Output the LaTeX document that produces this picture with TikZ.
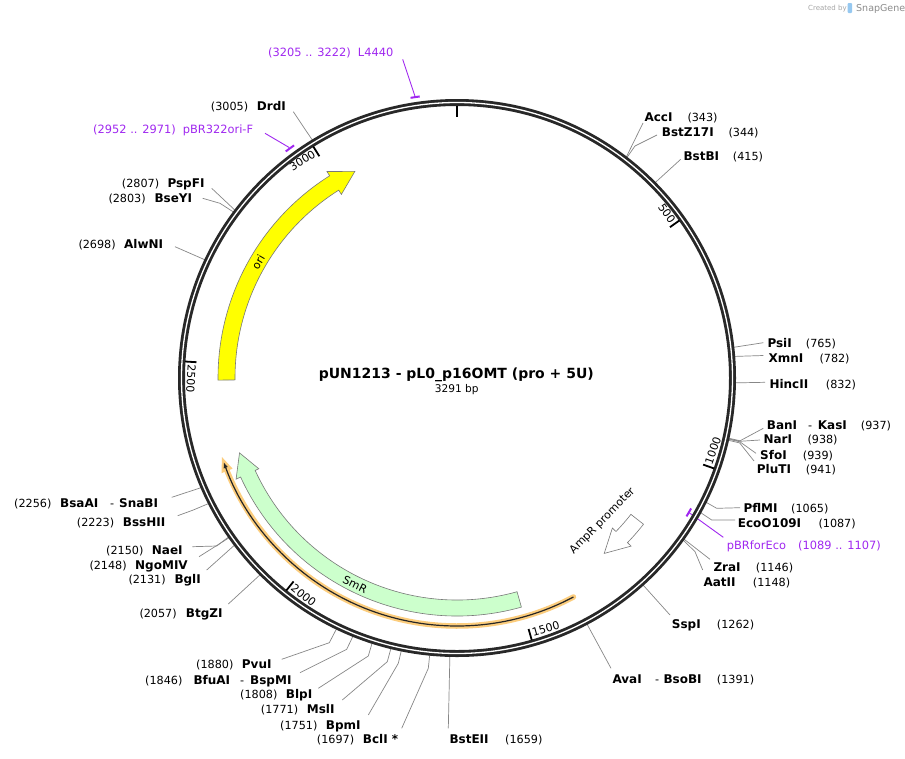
\documentclass[tikz,border=0pt]{standalone}
\usepackage{fontspec}
\setmainfont{DejaVu Sans}
\usetikzlibrary{arrows.meta}
\definecolor{ringc}{RGB}{40,40,40}
\definecolor{leadc}{RGB}{135,135,135}
\definecolor{featc}{RGB}{120,120,120}
\definecolor{smrc}{RGB}{204,255,204}
\definecolor{oric}{RGB}{255,255,0}
\definecolor{prim}{RGB}{160,40,240}
\definecolor{glowc}{RGB}{252,205,125}
\definecolor{logoc}{RGB}{150,200,240}
\newcommand{\pang}[1]{(#1)/3291*360-90}
\newcommand{\siteR}[6]{\node[enz] (n#1) at (#3,#4) {#2}; \node[epos] (p#1) at (#5,#4) {(#6)};}
\begin{document}
\begin{tikzpicture}[x=1pt,y=-1pt,
 enz/.style={font=\fontsize{12}{14}\selectfont\bfseries, inner sep=0pt, anchor=base west},
 epos/.style={font=\fontsize{11.2}{13}\selectfont, inner sep=0pt, anchor=base west},
 dashn/.style={font=\fontsize{11.2}{13}\selectfont, inner sep=0pt, anchor=base west},
 plab/.style={font=\fontsize{11.4}{13}\selectfont, text=prim, inner sep=0pt, anchor=base west},
 lead/.style={draw=leadc, line width=0.7pt},
 plead/.style={draw=prim, line width=0.9pt},
 pmark/.style={draw=prim, line width=2pt},
 feat/.style={draw=featc, line width=0.6pt},
 tickl/.style={font=\fontsize{11}{13}\selectfont, inner sep=0pt},
]
\useasboundingbox (0,0) rectangle (905,758);
\fill[white] (0,0) rectangle (905,758);

% ---------- ring coordinates ----------
\begin{scope}[shift={(457,378)}]
 \foreach \id/\p in {AccI/343,BstZ/344,BstBI/415,PsiI/765,XmnI/782,HincII/832,BanI/937,NarI/938,SfoI/939,PluTI/941,PflMI/1065,EcoO/1087,ZraI/1146,AatII/1148,SspI/1262,AvaI/1391,BstEII/1659,BclI/1697,BpmI/1751,MslI/1771,BlpI/1808,BfuAI/1846,PvuI/1880,BtgZI/2057,BglI/2131,NgoMIV/2148,NaeI/2150,BssHII/2223,BsaAI/2256,AlwNI/2698,BseYI/2803,PspFI/2807,DrdI/3005}
  {\coordinate (r\id) at ({\pang{\p}}:277);}
 \foreach \id/\p in {BanI/937,NarI/938,SfoI/939,PluTI/941}
  {\coordinate (k\id) at ({\pang{\p}}:290);}
 \coordinate (mL4440) at ({\pang{3213.5}}:285);
 \coordinate (mpBRori) at ({\pang{2961.5}}:285);
 \coordinate (mpBRfor) at ({\pang{1098}}:268);
\end{scope}

% ---------- leader end points ----------
\foreach \id/\xx/\yy in {AccI/643/123, BstZ/657/135, BstBI/680.7/159.3, PsiI/763.3/342.7, XmnI/763.3/355.5, HincII/765/382.3, BanI/763.3/428.3, NarI/760/440, SfoI/756/453.3, PluTI/754/461, PflMI/740/507.7, EcoO/735/520, ZraI/710/559.3, AatII/702.7/570, SspI/670/615, AvaI/611/668.3, BstEII/448.3/728.3, BclI/401.7/728.3, BpmI/368.3/715, MslI/342.3/700, BlpI/318.3/688.3, BfuAI/300/672.7, PvuI/281.7/659.3, BtgZI/228.3/604, BglI/206.7/570, NgoMIV/199/556.7, NaeI/192.3/546.7, BssHII/177.7/515.7, BsaAI/171.7/497.3, AlwNI/175/246.7, BseYI/202.7/198.3, PspFI/211.7/188.3, DrdI/293.3/111.7}
 {\coordinate (e\id) at (\xx,\yy);}
\foreach \id/\xx/\yy in {BstZ/635/146, PflMI/716.7/508.3, EcoO/711.7/520, AatII/695/551.7, BclI/428.3/668.3, BpmI/398.3/663.3, MslI/387.3/661.7, BlpI/368.3/656, BfuAI/346.7/649.3, PvuI/329.3/642.7, NaeI/216.7/546, BssHII/193.3/510, BseYI/220/203.3}
 {\coordinate (k\id) at (\xx,\yy);}
\coordinate (eL4440) at (402.7,59.3);
\coordinate (epBRori) at (265,133.3);
\coordinate (epBRfor) at (723.3,537.3);

% ---------- leaders ----------
\foreach \id in {AccI,BstBI,PsiI,XmnI,HincII,ZraI,SspI,AvaI,BstEII,BtgZI,BglI,NgoMIV,BsaAI,AlwNI,PspFI,DrdI}
 {\draw[lead] (r\id) -- (e\id);}
\foreach \id in {BstZ,BanI,NarI,SfoI,PluTI,PflMI,EcoO,AatII,BclI,BpmI,MslI,BlpI,BfuAI,PvuI,NaeI,BssHII,BseYI}
 {\draw[lead] (r\id) -- (k\id) -- (e\id);}
\draw[plead] (mL4440) -- (eL4440);
\draw[plead] (mpBRori) -- (epBRori);
\draw[plead] (mpBRfor) -- (epBRfor);

% ---------- backbone ----------
\begin{scope}[shift={(457,378)}]
 \draw[ringc, line width=7pt] (0,0) circle (275.5);
 \draw[white, line width=1.3pt] (0,0) circle (275.5);
 \foreach \t in {0,500,1000,1500,2000,2500,3000}
  {\draw[black, line width=1.8pt] ({\pang{\t}}:272.5) -- ({\pang{\t}}:261);}
 \foreach \t in {500,3000}
  {\node[tickl, anchor=base east, rotate={-(\t/3291*360)}] (t\t) at ({\pang{\t}-0.5}:262.5) {\t};}
 \foreach \t in {1000,1500,2000,2500}
  {\node[tickl, anchor=base west, rotate={180-\t/3291*360}] (t\t) at ({\pang{\t}-0.5}:269.5) {\t};}

 % primer marks
 \draw[pmark] ({\pang{3205}}:284) arc[start angle={\pang{3205}}, end angle={\pang{3222}}, radius=284];
 \draw[pmark] ({\pang{2952}}:284) arc[start angle={\pang{2952}}, end angle={\pang{2971}}, radius=284];
 \draw[pmark] ({\pang{1089}}:268) arc[start angle={\pang{1089}}, end angle={\pang{1107}}, radius=268];

 % ori
 \draw[feat, fill=oric] (179.5:239) arc[start angle=179.5, end angle=237.8, radius=239]
   -- (237.8:244) -- (243.7:230.5) -- (237.8:217) -- (237.8:222)
   arc[start angle=237.8, end angle=179.5, radius=222] -- cycle;
 % SmR
 \draw[feat, fill=smrc] (74.3:238) arc[start angle=74.3, end angle=155.4, radius=238]
   -- (155.4:243) -- (161:230) -- (155.4:218) -- (155.4:222)
   arc[start angle=155.4, end angle=74.3, radius=222] -- cycle;
 % AmpR promoter
 \draw[feat, fill=white] (38.1:237) arc[start angle=38.1, end angle=44, radius=237]
   -- (44:242) -- (50:229) -- (44:216) -- (44:221)
   arc[start angle=44, end angle=38.1, radius=221] -- cycle;
 % thin orange feature
 \draw[glowc, line width=5.5pt, line cap=round] (62:248) arc[start angle=62, end angle=158.5, radius=248];
 \fill[glowc] (161.4:248) -- (158:254) -- (158:242) -- cycle;
 \draw[black!85, line width=1.2pt, -{Latex[length=6pt,width=4.5pt]}] (62:248) arc[start angle=62, end angle=160.2, radius=248];

 % feature labels
 \node[tickl, rotate=59.8] (lori) at (210.2:230) {ori};
 \node[tickl, rotate=-26.3] (lsmr) at (116.3:230) {SmR};
 \node[tickl, rotate=45.5] (lamp) at (44.5:204) {AmpR promoter};
\end{scope}

% ---------- enzyme labels ----------
\siteR{AccI}{AccI}{644.3}{121}{687.3}{343}
\siteR{BstZ}{BstZ17I}{661.7}{136.3}{728.3}{344}
\siteR{BstBI}{BstBI}{683.3}{160}{732.7}{415}
\siteR{PsiI}{PsiI}{767.3}{347.6}{805.7}{765}
\siteR{XmnI}{XmnI}{768.3}{362}{819.3}{782}
\siteR{HincII}{HincII}{769.3}{388.6}{825.7}{832}
\node[enz] (nBanI) at (766.7,429.3) {BanI};
\node[dashn] (dBanI) at (808,429.3) {-};
\node[enz] (nKasI) at (817.7,429.3) {KasI};
\node[epos] (pBanI) at (860.7,429.3) {(937)};
\siteR{NarI}{NarI}{763.3}{443.6}{807.3}{938}
\siteR{SfoI}{SfoI}{760}{459.3}{802.7}{939}
\siteR{PluTI}{PluTI}{756.7}{473.6}{805.7}{941}
\siteR{PflMI}{PflMI}{743.3}{512.6}{791}{1065}
\siteR{EcoO}{EcoO109I}{737.7}{527}{818.3}{1087}
\siteR{ZraI}{ZraI}{713.3}{571.6}{755.7}{1146}
\siteR{AatII}{AatII}{703.3}{586}{752.7}{1148}
\siteR{SspI}{SspI}{671.7}{628.6}{716.7}{1262}
\node[enz] (nAvaI) at (612.3,683.6) {AvaI};
\node[dashn] (dAvaI) at (655,683.6) {-};
\node[enz] (nBsoBI) at (663.3,683.6) {BsoBI};
\node[epos] (pAvaI) at (716.7,683.6) {(1391)};
\siteR{BstEII}{BstEII}{449.3}{743.6}{505}{1659}
\siteR{BclI}{BclI *}{362.7}{743.6}{316.7}{1697}
\siteR{BpmI}{BpmI}{325.7}{729.3}{280}{1751}
\siteR{MslI}{MslI}{306.7}{713.6}{260.7}{1771}
\siteR{BlpI}{BlpI}{285.7}{698.6}{240}{1808}
\node[epos] (pBfuAI) at (145,684.3) {(1846)};
\node[enz] (nBfuAI) at (193.3,684.3) {BfuAI};
\node[dashn] (dBfuAI) at (240,684.3) {-};
\node[enz] (nBspMI) at (250,684.3) {BspMI};
\siteR{PvuI}{PvuI}{241.7}{668.6}{196}{1880}
\siteR{BtgZI}{BtgZI}{185.7}{617.6}{139.3}{2057}
\siteR{BglI}{BglI}{174.3}{583.6}{128.3}{2131}
\siteR{NgoMIV}{NgoMIV}{135}{569.3}{89.3}{2148}
\siteR{NaeI}{NaeI}{151.7}{554.3}{106}{2150}
\siteR{BssHII}{BssHII}{122.7}{526.6}{76.7}{2223}
\node[epos] (pBsaAI) at (14,507.6) {(2256)};
\node[enz] (nBsaAI) at (60,507.6) {BsaAI};
\node[dashn] (dBsaAI) at (110,507.6) {-};
\node[enz] (nSnaBI) at (119,507.6) {SnaBI};
\siteR{AlwNI}{AlwNI}{124}{248.3}{78.3}{2698}
\siteR{BseYI}{BseYI}{154.3}{202.6}{108.3}{2803}
\siteR{PspFI}{PspFI}{167.3}{187.6}{121.7}{2807}
\siteR{DrdI}{DrdI}{256.7}{110.3}{210.7}{3005}

% ---------- primer labels ----------
\node[plab] (pL4440) at (268,56) {(3205 .. 3222)};
\node[plab] (nL4440) at (357.7,56) {L4440};
\node[plab] (ppBRori) at (93,133.3) {(2952 .. 2971)};
\node[plab] (npBRori) at (182.7,133.3) {pBR322ori-F};
\node[plab] (npBRfor) at (726.7,549.3) {pBRforEco};
\node[plab] (ppBRfor) at (798,549.3) {(1089 .. 1107)};

% ---------- title ----------
\node[font=\fontsize{14}{16}\selectfont\bfseries, inner sep=0pt, anchor=base] (title) at (456.3,378.4) {pUN1213 - pL0\_p16OMT (pro + 5U)};
\node[font=\fontsize{10.6}{12}\selectfont, inner sep=0pt, anchor=base] (bp) at (456.7,392.3) {3291 bp};

% ---------- logo ----------
\node[font=\fontsize{7}{8}\selectfont, text=black!35, inner sep=0pt, anchor=base west] (cby) at (808,10) {Created by};
\fill[logoc, rounded corners=1pt] (847.5,3) rectangle (852,13);
\node[font=\fontsize{9.5}{11}\selectfont, text=black!45, inner sep=0pt, anchor=base west] (sg) at (856,11) {SnapGene};
\end{tikzpicture}
\end{document}
